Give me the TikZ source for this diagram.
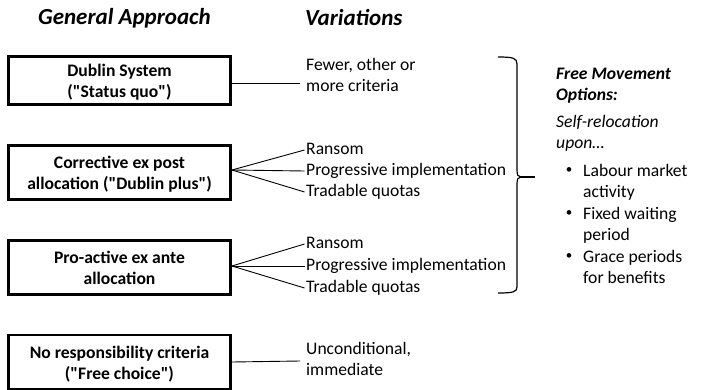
\documentclass[tikz,border=0pt]{standalone}
\usepackage{fontspec}
\setmainfont{Carlito}[Ligatures=TeXOff]
\newcommand\topstrut{\rule{0pt}{20pt}}
\begin{document}
\fontsize{17.6}{21}\selectfont
\begin{tikzpicture}[x=1pt,y=-1pt,
  hdr/.style={font=\fontsize{23}{27}\selectfont\bfseries\itshape, inner sep=0pt},
  box/.style={draw, line width=2.8pt, minimum width=222pt, font=\bfseries, align=center, inner sep=0pt},
  var/.style={anchor=west, inner sep=0pt, align=left},
  dot/.style={inner sep=0pt, font=\fontsize{13}{15}\selectfont},
  conn/.style={line width=0.9pt},
  brace/.style={line width=1.2pt}]
\useasboundingbox (0,0) rectangle (703,390);
% headers
\node[hdr] (h1) at (124.5,18) {General Approach};
\node[hdr, anchor=west] (h2) at (305,18) {Variations};
% boxes
\node[box, minimum height=44pt] (b1) at (119.5,80.5) {\topstrut Dublin System\\\strut("Status quo")};
\node[box, minimum height=54pt] (b2) at (119.5,172.5) {\topstrut Corrective ex post\\\strut allocation ("Dublin plus")};
\node[box, minimum height=54pt] (b3) at (119.5,267.5) {\topstrut Pro-active ex ante\\\strut allocation};
\node[box, minimum height=54pt] (b4) at (119.5,362) {\topstrut No responsibility criteria\\\strut("Free choice")};
% variations
\node[var] (v1) at (306,77) {\strut Fewer, other or\\\strut more criteria};
\coordinate (c1) at (300,83);
\draw[conn] ([yshift=-2.5pt]b1.east) -- (c1);
\node[var] (r2) at (306,150) {\strut Ransom};
\node[var] (p2) at (306,171) {\strut Progressive implementation};
\node[var] (t2) at (306,192) {\strut Tradable quotas};
\draw[conn] ([yshift=2.5pt]b2.east) -- ([xshift=-1.5pt]r2.west);
\draw[conn] ([yshift=2.5pt]b2.east) -- ([xshift=-1.5pt]p2.west);
\draw[conn] ([yshift=2.5pt]b2.east) -- ([xshift=-1.5pt]t2.west);
\node[var] (r3) at (306,244) {\strut Ransom};
\node[var] (p3) at (306,266) {\strut Progressive implementation};
\node[var] (t3) at (306,288) {\strut Tradable quotas};
\draw[conn] ([yshift=1.5pt]b3.east) -- ([xshift=-1.5pt]r3.west);
\draw[conn] ([yshift=1.5pt]b3.east) -- ([xshift=-1.5pt]p3.west);
\draw[conn] ([yshift=1.5pt]b3.east) -- ([xshift=-1.5pt]t3.west);
\node[var] (v4) at (306,361) {\strut Unconditional,\\\strut immediate};
\coordinate (c4) at (300,361);
\draw[conn] (b4.east) -- (c4);
% brace
\coordinate (tip) at (521,177);
\coordinate (tipend) at (535,177);
\draw[brace] (498,57) .. controls (513,57) and (517,58) .. (517,64) -- (517,170)
  .. controls (517,175) and (518,177) .. (tip)
  .. controls (518,177) and (517,179) .. (517,184) -- (517,287)
  .. controls (517,292) and (513,293) .. (498,293);
\draw[brace] (tip) -- (tipend);
% right column
\node[var, font=\bfseries\itshape] (fm) at (556,86) {\strut Free Movement\\\strut Options:};
\node[var, font=\itshape] (sr) at (556,134) {\strut Self-relocation\\\strut upon…};
\node[dot] (d1) at (569,171) {\textbullet};
\node[var] (l1) at (583,182.5) {\strut Labour market\\\strut activity};
\node[dot] (d2) at (569,214) {\textbullet};
\node[var] (l2) at (583,225.5) {\strut Fixed waiting\\\strut period};
\node[dot] (d3) at (569,257) {\textbullet};
\node[var] (l3) at (583,268.5) {\strut Grace periods\\\strut for benefits};
\end{tikzpicture}
\end{document}
